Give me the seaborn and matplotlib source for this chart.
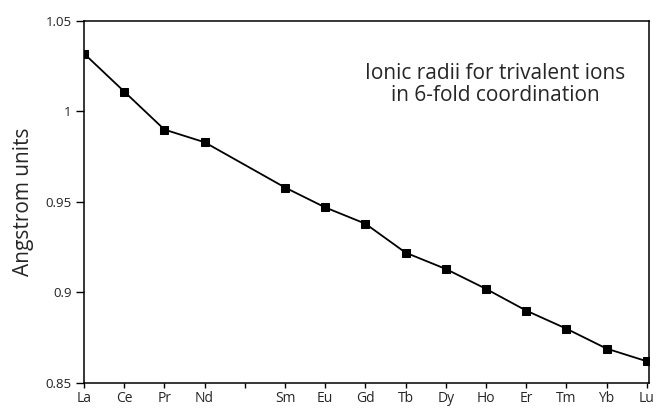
import matplotlib
matplotlib.use("Agg")
import matplotlib.pyplot as plt
import seaborn as sns
import pandas as pd

elements = ["La", "Ce", "Pr", "Nd", "Sm", "Eu", "Gd", "Tb", "Dy", "Ho", "Er", "Tm", "Yb", "Lu"]
positions = [0, 1, 2, 3, 5, 6, 7, 8, 9, 10, 11, 12, 13, 14]
radii = [1.032, 1.011, 0.990, 0.983, 0.958, 0.947, 0.938, 0.922, 0.913, 0.902, 0.890, 0.880, 0.869, 0.862]
tick_positions = list(range(15))
tick_labels = ["La", "Ce", "Pr", "Nd", "", "Sm", "Eu", "Gd", "Tb", "Dy", "Ho", "Er", "Tm", "Yb", "Lu"]
y_ticks = [0.85, 0.9, 0.95, 1.0, 1.05]
y_tick_labels = ["0.85", "0.9", "0.95", "1", "1.05"]

sns.set_style("ticks")
plt.rcParams['font.family'] = ['Open Sans', 'DejaVu Sans']

df = pd.DataFrame({"pos": positions, "radius": radii, "element": elements})

fig = plt.figure(figsize=(6.59, 4.09), dpi=100)
ax = fig.add_axes([0.1275, 0.0636, 0.857, 0.8851])
sns.lineplot(data=df, x="pos", y="radius", marker="s", color="black",
             markersize=6, linewidth=1.3, markeredgecolor="black", ax=ax)

ax.set_xlim(0, 14.05)
ax.set_ylim(0.85, 1.05)
ax.set_xticks(tick_positions)
ax.set_xticklabels(tick_labels, fontsize=10)
ax.set_yticks(y_ticks)
ax.set_yticklabels(y_tick_labels, fontsize=9.5, color="#222222")
ax.tick_params(axis="x", direction="out", length=3.8, width=1, color="black", pad=2)
ax.tick_params(axis="y", direction="out", length=6, width=1, color="black", pad=3)
for s in ax.spines.values():
    s.set_color("black")
    s.set_linewidth(1.1)
ax.set_xlabel("")
ax.set_ylabel("Angstrom units", fontsize=15, labelpad=8)
ax.text(0.728, 0.825, "Ionic radii for trivalent ions\nin 6-fold coordination",
        transform=ax.transAxes, ha="center", va="center", fontsize=15, linespacing=1.05)

fig.savefig("out.png", dpi=100)
